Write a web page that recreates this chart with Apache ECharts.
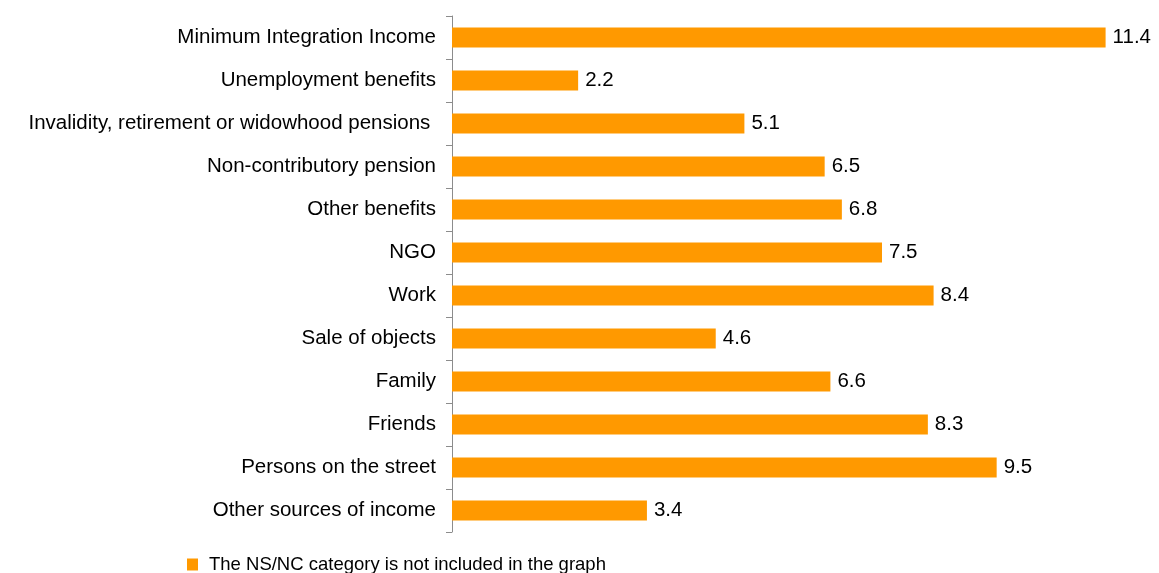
<!DOCTYPE html>
<html>
<head>
<meta charset="utf-8">
<title>Sources of income</title>
<script src="https://cdn.jsdelivr.net/npm/echarts@6/dist/echarts.min.js"></script>
<style>
  html, body { margin: 0; padding: 0; background: #fff; }
  #chart { width: 1159px; height: 573px; }
</style>
</head>
<body>
<div id="chart"></div>
<script>
// Income sources, top to bottom
const categories = [
  'Minimum Integration Income',
  'Unemployment benefits',
  'Invalidity, retirement or widowhood pensions ',
  'Non-contributory pension',
  'Other benefits',
  'NGO',
  'Work',
  'Sale of objects',
  'Family',
  'Friends',
  'Persons on the street',
  'Other sources of income'
];
const values = [11.4, 2.2, 5.1, 6.5, 6.8, 7.5, 8.4, 4.6, 6.6, 8.3, 9.5, 3.4];
const seriesName = 'The NS/NC category is not included in the graph';

const FONT = '"Liberation Sans", Arial, Helvetica, sans-serif';
const chart = echarts.init(document.getElementById('chart'), null, { renderer: 'canvas' });

chart.setOption({
  animation: false,
  backgroundColor: '#ffffff',
  textStyle: { fontFamily: FONT },
  grid: { left: 452, right: 19, top: 16, bottom: 41, containLabel: false },
  legend: {
    left: 187,
    top: 555,
    padding: 0,
    itemWidth: 11,
    itemHeight: 12,
    itemGap: 10,
    icon: 'rect',
    data: [seriesName],
    textStyle: { fontFamily: FONT, fontSize: 18.5, color: '#000', padding: [0, 0, 0, 6] }
  },
  xAxis: {
    type: 'value',
    min: 0,
    max: 12,
    show: false
  },
  yAxis: {
    type: 'category',
    data: categories,
    inverse: true,
    axisLine: { show: true, lineStyle: { color: '#8c8c8c', width: 1 } },
    axisTick: { show: true, length: 6, lineStyle: { color: '#8c8c8c', width: 1 } },
    axisLabel: { fontFamily: FONT, fontSize: 20.5, color: '#000', margin: 16, padding: [2, 0, 0, 0] },
    splitLine: { show: false }
  },
  series: [{
    name: seriesName,
    type: 'bar',
    data: values,
    barWidth: 20,
    itemStyle: { color: '#FF9900' },
    label: {
      show: true,
      position: 'right',
      distance: 7,
      fontFamily: FONT,
      fontSize: 20.5,
      color: '#000',
      padding: [2, 0, 0, 0],
      formatter: p => p.value.toFixed(1)
    }
  }]
});
</script>
</body>
</html>
